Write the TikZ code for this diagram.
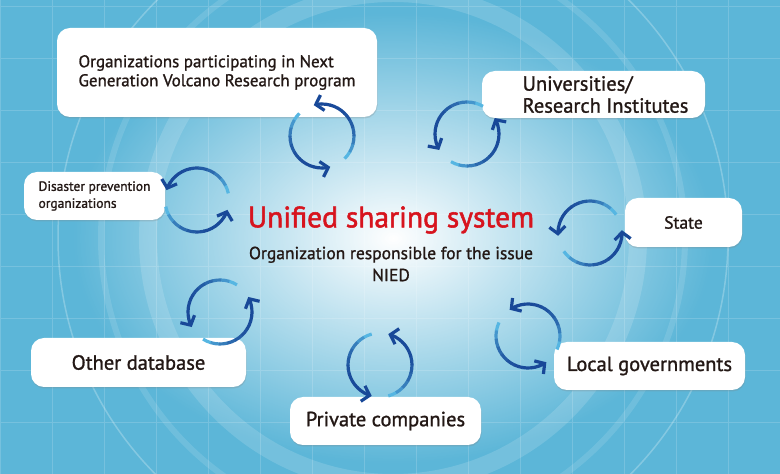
\documentclass[tikz,border=0pt]{standalone}
\usepackage{fontspec}
\setmainfont{PT Sans}[FakeBold=1.2]
\usetikzlibrary{arrows.meta,shadows,fadings,positioning}

\definecolor{bgblue}{RGB}{92,182,216}
\definecolor{arrdark}{RGB}{24,72,152}
\definecolor{arrlight}{RGB}{86,182,226}
\definecolor{titlered}{RGB}{215,20,30}
\definecolor{txt}{RGB}{35,24,21}

\tikzfading[name=glow, inner color=transparent!0, outer color=transparent!100]

% two arcs round #1, first one starting at angle #2
\newcommand{\cycarrow}[2]{%
  \foreach \s in {0,180}{
    \foreach \k in {0,...,9}{
      \pgfmathtruncatemacro{\pc}{100*(1-(1-\k/9)^3)}
      \pgfmathsetmacro{\ang}{#2+\s+\k*15}
      \ifnum\k=9
        \draw[cyc, arrdark!\pc!arrlight, -{Straight Barb[length=7pt,width=16pt]}] (#1) ++(\ang:32pt) arc[start angle=\ang, delta angle=15, radius=32pt];
      \else
        \draw[cyc, arrdark!\pc!arrlight] (#1) ++(\ang:32pt) arc[start angle=\ang, delta angle=15.8, radius=32pt];
      \fi
    }
  }
}

\begin{document}
\begin{tikzpicture}[x=1pt,y=1pt,
    box/.style={fill=white, rounded corners=13pt, text=txt, inner sep=0pt,
      drop shadow={opacity=0.25, shadow xshift=0.5pt, shadow yshift=-1.5pt}},
    cyc/.style={line width=3.2pt},
    big/.style={font=\fontsize{20.5}{22}\selectfont}]
  \useasboundingbox (0,0) rectangle (780,474);
  \clip (0,0) rectangle (780,474);

  % background
  \fill[bgblue] (0,0) rectangle (780,474);
  \draw[white, opacity=0.16, step=52] (0,0) grid (780,474);
  \draw[white, opacity=0.15, line width=18pt] (393,236) circle[radius=245pt];
  \draw[white, opacity=0.12, line width=6pt] (393,236) circle[radius=292pt];
  \draw[white, opacity=0.25, line width=1.5pt] (393,236) circle[radius=335pt];
  \fill[white, path fading=glow] (393,236) ellipse[x radius=320pt, y radius=225pt];

  % boxes
  \node[box, minimum width=320pt, minimum height=89pt, align=left,
    font=\fontsize{17}{19}\selectfont] (orgs) at (217,401.5)
    {Organizations participating in Next\\Generation Volcano Research program};
  \node[box, big, minimum width=223pt, minimum height=47pt, align=left] (univ) at (593.5,379.5)
    {\hspace*{24pt}Universities/\\\hspace*{24pt}Research Institutes};
  \node[box, minimum width=141pt, minimum height=48pt, align=left,
    font=\fontsize{13.5}{17}\selectfont] (dis) at (94.5,278)
    {Disaster prevention\\organizations};
  \node[box, minimum width=117pt, minimum height=49pt,
    font=\fontsize{17.5}{20}\selectfont] (state) at (683.5,251.5) {State};
  \node[box, big, minimum width=215pt, minimum height=49pt] (other) at (138.5,111.5) {Other database};
  \node[box, big, minimum width=191pt, minimum height=48pt] (priv) at (385.5,53) {Private companies};
  \node[box, big, minimum width=191pt, minimum height=48pt] (local) at (649.5,108) {Local governments};

  % centre
  \node[font=\fontsize{29.5}{30}\selectfont\addfontfeatures{FakeBold=1.8}, text=titlered] (usys) at (391,254) {Unified sharing system};
  \node[font=\fontsize{17.5}{22}\selectfont, text=txt, align=center] (resp) at (391,210)
    {Organization responsible for the issue\\NIED};

  % exchange arrows
  \coordinate (c-orgs)  at (322,338);
  \coordinate (c-univ)  at (467,340);
  \coordinate (c-dis)   at (197,274);
  \coordinate (c-state) at (590,241);
  \coordinate (c-other) at (220,162);
  \coordinate (c-priv)  at (380,109);
  \coordinate (c-local) at (528,138);
  \cycarrow{c-orgs}{135}
  \cycarrow{c-univ}{60}
  \cycarrow{c-dis}{12}
  \cycarrow{c-state}{35}
  \cycarrow{c-other}{58}
  \cycarrow{c-priv}{105}
  \cycarrow{c-local}{-25}
\end{tikzpicture}
\end{document}
